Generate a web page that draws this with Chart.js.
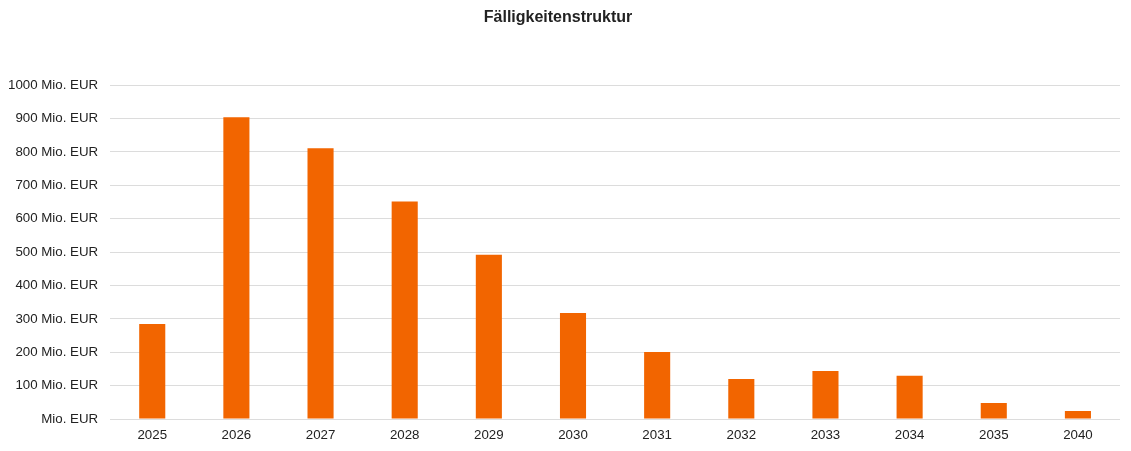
<!DOCTYPE html>
<html>
<head>
<meta charset="utf-8">
<title>Fälligkeitenstruktur</title>
<script src="https://cdn.jsdelivr.net/npm/chart.js@4/dist/chart.umd.min.js"></script>
<style>
    html, body { margin: 0; padding: 0; background: #ffffff; }
    #wrap { width: 1131px; height: 451px; }
</style>
</head>
<body>
<div id="wrap"><canvas id="chart"></canvas></div>
<script>
// Jahre der Fälligkeit
var jahre = ['2025', '2026', '2027', '2028', '2029', '2030', '2031', '2032', '2033', '2034', '2035', '2040'];
// Volumen in Mio. EUR
var volumen = [285, 904, 811, 652, 492, 318, 201, 120, 144, 130, 48, 24];

var chart = new Chart(document.getElementById('chart'), {
    type: 'bar',
    data: {
        labels: jahre,
        datasets: [{
            label: 'Fälligkeiten',
            data: volumen,
            backgroundColor: '#f26500',
            categoryPercentage: 1,
            barPercentage: 0.31
        }]
    },
    options: {
        responsive: true,
        maintainAspectRatio: false,
        animation: false,
        layout: {
            padding: { left: -4, right: 11, top: 0, bottom: 8 }
        },
        plugins: {
            legend: { display: false },
            tooltip: { enabled: false },
            title: {
                display: true,
                text: 'Fälligkeitenstruktur',
                color: '#222222',
                font: { family: 'Arial, "Liberation Sans"', size: 16, weight: 'bold' },
                padding: { top: 8, bottom: 58 }
            }
        },
        scales: {
            x: {
                grid: { display: false },
                border: { display: false },
                ticks: {
                    color: '#222222',
                    font: { family: 'Arial, "Liberation Sans"', size: 13.3 },
                    padding: 0
                }
            },
            y: {
                min: 0,
                max: 1000,
                grid: { color: '#dcdcdc', drawTicks: false },
                border: { display: false },
                ticks: {
                    stepSize: 100,
                    color: '#222222',
                    font: { family: 'Arial, "Liberation Sans"', size: 13.3 },
                    padding: 12,
                    callback: function(value) {
                        return value === 0 ? 'Mio. EUR' : value + ' Mio. EUR';
                    }
                }
            }
        }
    }
});
</script>
</body>
</html>
